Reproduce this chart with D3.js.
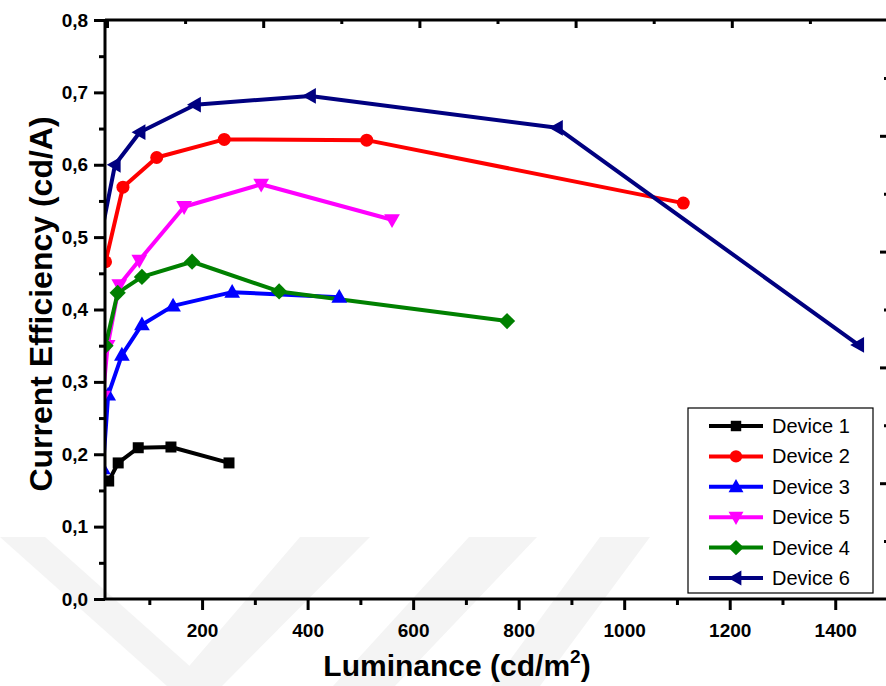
<!DOCTYPE html>
<html><head><meta charset="utf-8">
<script src="https://cdn.jsdelivr.net/npm/d3@7"></script>
<style>body{margin:0;background:#fff}svg{display:block}</style>
</head><body>
<svg id="c" width="886" height="686"></svg>
<script>
// ---- data ----
const device1 = [[23,0.163],[41,0.188],[79,0.209],[141,0.210],[251,0.188]];
const device2 = [[17,0.466],[50,0.569],[114,0.610],[242,0.635],[512,0.634],[1112,0.547]];
const device3 = [[12,0.18],[22,0.282],[48,0.337],[86,0.379],[145,0.405],[257,0.424],[460,0.417]];
const device5 = [[12,0.28],[21,0.35],[43,0.434],[81,0.468],[166,0.542],[312,0.573],[560,0.524]];
const device4 = [[17,0.35],[40,0.423],[86,0.445],[181,0.466],[346,0.425],[778,0.384]];
const device6 = [[5,0.49],[35,0.600],[82,0.645],[187,0.683],[405,0.695],[873,0.651],[1444,0.351]];
const seriesNames = ["Device 1","Device 2","Device 3","Device 5","Device 4","Device 6"];
const seriesColors = ["#000000","#ff0000","#0000ff","#ff00ff","#008000","#000080"];
const seriesSymbols = ["square","circle","triUp","triDown","diamond","triLeft"];
const xTickValues = [200,400,600,800,1000,1200,1400];
const yTickValues = [0,0.1,0.2,0.3,0.4,0.5,0.6,0.7,0.8];
const xDomain = [16,1500];
const yDomain = [0,0.8];

const series = [device1,device2,device3,device5,device4,device6];

const svg = d3.select("#c");
const L=105, R=888, T=20, B=599;
const x = d3.scaleLinear().domain(xDomain).range([L,R]);
const y = d3.scaleLinear().domain(yDomain).range([B,T]);

// faint watermark shapes
const wm = svg.append("g").attr("fill","#f4f4f4");
[[[0,537],[45,537],[212,686],[167,686]],
 [[300,537],[370,537],[222,686],[172,686]],
 [[469,537],[537,537],[395,686],[333,686]],
 [[600,537],[650,537],[540,686],[491,686]]]
  .forEach(p=>wm.append("polygon").attr("points",p.map(d=>d.join(",")).join(" ")));

svg.append("defs").append("clipPath").attr("id","clip")
  .append("rect").attr("x",L).attr("y",T-10).attr("width",R-L).attr("height",B-T+10);

function symbolPath(type, s){
  switch(type){
    case "square": return `M${-s},${-s}h${2*s}v${2*s}h${-2*s}Z`;
    case "circle": return `M${-s},0a${s},${s} 0 1,0 ${2*s},0a${s},${s} 0 1,0 ${-2*s},0Z`;
    case "triUp": return `M0,${-s*1.1}L${s*1.05},${s*0.75}L${-s*1.05},${s*0.75}Z`;
    case "triDown": return `M0,${s*1.1}L${s*1.05},${-s*0.75}L${-s*1.05},${-s*0.75}Z`;
    case "triLeft": return `M${-s*1.1},0L${s*0.75},${-s*1.05}L${s*0.75},${s*1.05}Z`;
    case "diamond": return `M0,${-s*1.25}L${s*1.25},0L0,${s*1.25}L${-s*1.25},0Z`;
  }
}
const symSize = {square:5.5,circle:6.5,triUp:7.5,triDown:7.5,triLeft:7.5,diamond:6.5};

const plot = svg.append("g").attr("clip-path","url(#clip)");
const line = d3.line().x(d=>x(d[0])).y(d=>y(d[1]));
series.forEach((data,i)=>{
  plot.append("path").attr("d",line(data)).attr("fill","none")
    .attr("stroke",seriesColors[i]).attr("stroke-width",4).attr("stroke-linejoin","round");
});
series.forEach((data,i)=>{
  plot.selectAll(null).data(data).enter().append("path")
    .attr("transform",d=>`translate(${x(d[0])},${y(d[1])})`)
    .attr("d",symbolPath(seriesSymbols[i],symSize[seriesSymbols[i]]))
    .attr("fill",seriesColors[i]);
});

// axes
const font = "'Liberation Sans', Arial, sans-serif";
const xMinor = d3.range(100,1501,200);
const yMinor = d3.range(0.05,0.8,0.1);

const gx = svg.append("g").attr("transform",`translate(0,${B})`)
  .call(d3.axisBottom(x).tickValues(xTickValues).tickSize(11).tickFormat(d3.format("d")));
svg.append("g").attr("transform",`translate(0,${B})`)
  .call(d3.axisBottom(x).tickValues(xMinor).tickSize(6).tickFormat(""))
  .call(g=>g.select(".domain").remove());
const gy = svg.append("g").attr("transform",`translate(${L},0)`)
  .call(d3.axisLeft(y).tickValues(yTickValues).tickSize(11).tickFormat(d=>d3.format(".1f")(d).replace(".",",")));
svg.append("g").attr("transform",`translate(${L},0)`)
  .call(d3.axisLeft(y).tickValues(yMinor).tickSize(6).tickFormat(""))
  .call(g=>g.select(".domain").remove());

// top and right frame axes (unlabelled)
const xt = d3.scaleLinear().domain([0,5]).range([L+2,R]);
const yr = d3.scaleLinear().domain([0,5]).range([B,T]);
svg.append("g").attr("transform",`translate(0,${T})`)
  .call(d3.axisBottom(xt).tickValues(d3.range(0,6,1)).tickSize(8).tickSizeOuter(0).tickFormat(""))
  .call(g=>g.select(".domain").remove());
svg.append("g").attr("transform",`translate(0,${T})`)
  .call(d3.axisBottom(xt).tickValues(d3.range(0.5,5,1)).tickSize(4).tickFormat(""))
  .call(g=>g.select(".domain").remove());
svg.append("g").attr("transform",`translate(${R},0)`)
  .call(d3.axisLeft(yr).tickValues(d3.range(1,5,1)).tickSize(8).tickFormat(""))
  .call(g=>g.select(".domain").remove());
svg.append("g").attr("transform",`translate(${R},0)`)
  .call(d3.axisLeft(yr).tickValues(d3.range(0.5,5,1)).tickSize(4).tickFormat(""))
  .call(g=>g.select(".domain").remove());
svg.append("line").attr("x1",L).attr("x2",R).attr("y1",T).attr("y2",T);

svg.selectAll(".tick line, line").attr("stroke","#000").attr("stroke-width",3);
svg.selectAll(".domain").attr("stroke","#000").attr("stroke-width",3);
gx.selectAll("text").attr("font-family",font).attr("font-weight","bold").attr("font-size",19).attr("dy","1.25em");
gy.selectAll("text").attr("font-family",font).attr("font-weight","bold").attr("font-size",19).attr("dx","-0.15em");
gx.select(".domain").attr("d",`M${L},0H${R}`);
gy.select(".domain").attr("d",`M0,${B}V${T}`);

// titles
const xt2 = svg.append("text").attr("x",457).attr("y",676).attr("text-anchor","middle")
  .attr("font-family",font).attr("font-weight","bold").attr("font-size",30);
xt2.append("tspan").text("Luminance (cd/m");
xt2.append("tspan").attr("font-size",19).attr("dy",-13).text("2");
xt2.append("tspan").attr("dy",13).text(")");
svg.append("text").attr("transform","translate(52,304) rotate(-90)").attr("text-anchor","middle")
  .attr("font-family",font).attr("font-weight","bold").attr("font-size",32)
  .text("Current Efficiency (cd/A)");

// legend
const lg = svg.append("g");
lg.append("rect").attr("x",688).attr("y",408).attr("width",185).attr("height",185)
  .attr("fill","#fff").attr("stroke","#000").attr("stroke-width",1.2);
seriesNames.forEach((n,i)=>{
  const yy = 426 + i*30.4;
  lg.append("line").attr("x1",709).attr("x2",763).attr("y1",yy).attr("y2",yy)
    .attr("stroke",seriesColors[i]).attr("stroke-width",4);
  lg.append("path").attr("transform",`translate(736,${yy})`)
    .attr("d",symbolPath(seriesSymbols[i],symSize[seriesSymbols[i]]*0.95)).attr("fill",seriesColors[i]);
  lg.append("text").attr("x",772).attr("y",yy+7).attr("font-family",font).attr("font-size",20).text(n);
});
</script>
</body></html>
